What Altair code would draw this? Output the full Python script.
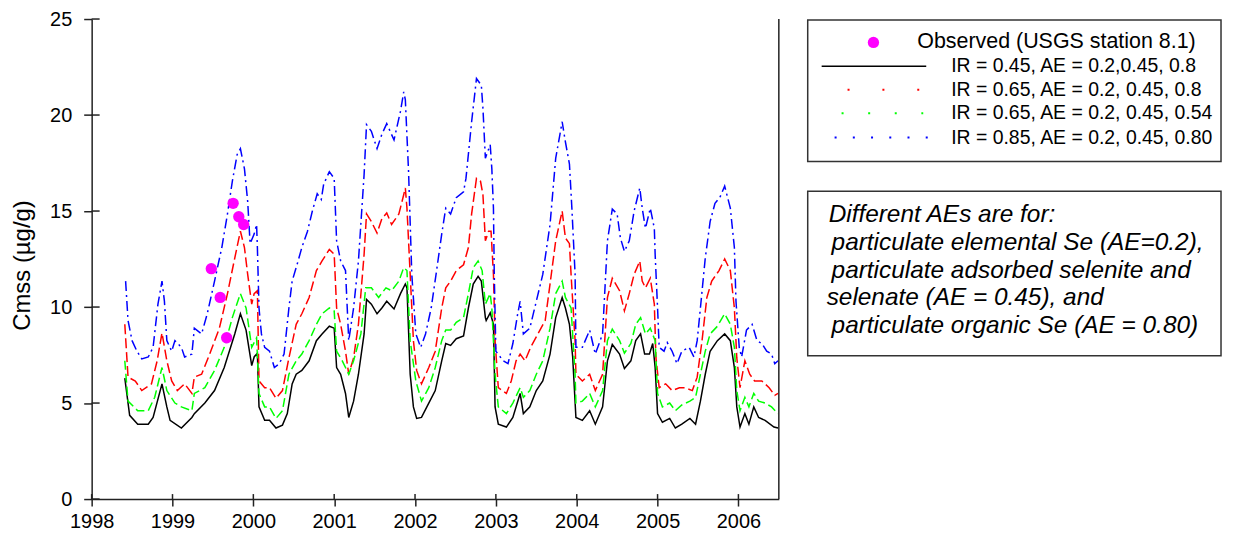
import altair as alt
import pandas as pd

# ---- data (decimal year, Cmss in ug/g) ----
black = [(1998.41, 6.3), (1998.47, 4.36), (1998.57, 3.9), (1998.70, 3.9), (1998.76, 4.25), (1998.87, 6.0),
         (1998.93, 4.8), (1998.97, 4.1), (1999.11, 3.7), (1999.24, 4.25), (1999.27, 4.45), (1999.40, 5.0),
         (1999.52, 5.65), (1999.64, 6.85), (1999.77, 8.6), (1999.84, 9.65), (1999.91, 8.8), (1999.98, 6.95),
         (2000.01, 7.4), (2000.05, 7.6), (2000.07, 4.8), (2000.14, 4.1), (2000.20, 4.1), (2000.28, 3.7),
         (2000.36, 3.85), (2000.42, 4.45), (2000.48, 6.0), (2000.53, 6.5), (2000.60, 6.7), (2000.69, 7.2),
         (2000.78, 8.25), (2000.85, 8.6), (2000.94, 9.0), (2001.00, 8.9), (2001.03, 6.85), (2001.08, 6.5),
         (2001.14, 5.5), (2001.18, 4.25), (2001.24, 5.1), (2001.30, 6.5), (2001.37, 8.6), (2001.40, 10.4),
         (2001.46, 10.15), (2001.53, 9.65), (2001.59, 9.95), (2001.65, 10.3), (2001.74, 9.9), (2001.82, 10.7),
         (2001.88, 11.2), (2001.90, 11.0), (2001.94, 6.5), (2001.98, 4.8), (2002.02, 4.2), (2002.08, 4.25),
         (2002.17, 5.0), (2002.25, 5.65), (2002.33, 7.2), (2002.38, 8.1), (2002.44, 8.0), (2002.51, 8.35),
         (2002.60, 8.5), (2002.66, 9.95), (2002.72, 11.2), (2002.78, 11.6), (2002.82, 11.35), (2002.87, 9.45),
         (2002.88, 9.3), (2002.93, 9.7), (2002.97, 9.1), (2002.99, 4.8), (2003.03, 3.9), (2003.13, 3.75),
         (2003.21, 4.25), (2003.30, 5.5), (2003.34, 4.45), (2003.42, 4.8), (2003.50, 5.65), (2003.58, 6.15),
         (2003.67, 7.55), (2003.74, 9.45), (2003.82, 10.5), (2003.86, 9.95), (2003.91, 9.1), (2003.95, 7.4),
         (2003.99, 4.25), (2004.07, 4.1), (2004.16, 4.6), (2004.23, 3.9), (2004.32, 4.8), (2004.38, 7.2),
         (2004.44, 8.05), (2004.53, 7.55), (2004.59, 6.8), (2004.67, 7.2), (2004.73, 8.25), (2004.79, 8.6),
         (2004.84, 7.55), (2004.90, 7.55), (2004.94, 8.1), (2004.97, 6.85), (2005.00, 4.45), (2005.06, 4.0),
         (2005.15, 4.2), (2005.22, 3.7), (2005.30, 3.9), (2005.40, 4.2), (2005.47, 3.9), (2005.53, 5.1),
         (2005.59, 6.5), (2005.65, 7.7), (2005.74, 8.25), (2005.83, 8.6), (2005.90, 8.25), (2005.95, 6.85),
         (2005.98, 4.8), (2006.02, 3.75), (2006.08, 4.45), (2006.13, 3.9), (2006.19, 4.8), (2006.25, 4.25),
         (2006.33, 4.1), (2006.44, 3.75), (2006.49, 3.7)]

red = [(1998.41, 9.1), (1998.45, 6.35), (1998.54, 6.15), (1998.62, 5.65), (1998.74, 6.0), (1998.81, 7.2),
       (1998.87, 8.65), (1998.93, 7.2), (1998.99, 6.15), (1999.06, 5.65), (1999.15, 6.0), (1999.24, 5.5),
       (1999.27, 6.35), (1999.36, 6.5), (1999.46, 7.55), (1999.58, 8.9), (1999.68, 10.7), (1999.77, 12.55),
       (1999.84, 13.95), (1999.89, 13.1), (1999.93, 11.7), (1999.98, 10.15), (2000.01, 10.7), (2000.05, 10.85),
       (2000.07, 6.15), (2000.14, 5.8), (2000.20, 5.8), (2000.28, 5.25), (2000.36, 5.65), (2000.44, 7.35),
       (2000.53, 9.1), (2000.60, 9.65), (2000.69, 10.5), (2000.78, 11.9), (2000.85, 12.4), (2000.94, 13.0),
       (2001.00, 12.75), (2001.03, 9.95), (2001.08, 9.1), (2001.14, 7.7), (2001.18, 6.5), (2001.24, 7.35),
       (2001.30, 9.1), (2001.37, 12.75), (2001.40, 14.85), (2001.46, 14.45), (2001.53, 13.85), (2001.59, 14.6),
       (2001.65, 14.9), (2001.71, 14.3), (2001.80, 14.85), (2001.86, 15.85), (2001.88, 16.2), (2001.90, 15.15),
       (2001.94, 11.7), (2001.98, 8.25), (2002.02, 6.7), (2002.08, 6.0), (2002.17, 6.85), (2002.25, 7.7),
       (2002.33, 9.95), (2002.38, 11.0), (2002.44, 11.35), (2002.51, 11.9), (2002.60, 12.2), (2002.66, 13.1),
       (2002.70, 14.85), (2002.76, 16.7), (2002.81, 16.55), (2002.84, 15.85), (2002.87, 13.45), (2002.91, 13.95),
       (2002.94, 13.95), (2002.97, 11.7), (2002.99, 8.25), (2003.03, 5.8), (2003.13, 5.5), (2003.19, 6.15),
       (2003.25, 7.2), (2003.30, 7.55), (2003.36, 7.2), (2003.43, 7.9), (2003.52, 8.6), (2003.61, 9.3),
       (2003.67, 11.2), (2003.74, 13.45), (2003.82, 15.0), (2003.86, 13.6), (2003.91, 13.3), (2003.93, 11.7),
       (2003.98, 8.25), (2003.99, 6.5), (2004.07, 6.15), (2004.16, 6.5), (2004.23, 5.65), (2004.32, 6.5),
       (2004.38, 10.5), (2004.44, 11.5), (2004.53, 10.85), (2004.59, 9.8), (2004.65, 10.7), (2004.71, 11.7),
       (2004.78, 12.4), (2004.81, 11.35), (2004.85, 11.0), (2004.91, 11.5), (2004.96, 10.15), (2004.98, 7.35),
       (2005.02, 5.8), (2005.10, 6.0), (2005.18, 5.65), (2005.27, 5.8), (2005.34, 5.8), (2005.43, 5.65),
       (2005.49, 6.35), (2005.55, 8.25), (2005.61, 10.5), (2005.67, 11.35), (2005.76, 11.9), (2005.83, 12.5),
       (2005.90, 11.9), (2005.95, 9.95), (2005.98, 7.35), (2006.02, 5.8), (2006.08, 7.2), (2006.14, 6.5),
       (2006.20, 6.15), (2006.29, 6.15), (2006.38, 5.8), (2006.45, 5.4), (2006.49, 5.5)]

green = [(1998.41, 7.2), (1998.45, 5.1), (1998.57, 4.6), (1998.70, 4.6), (1998.78, 5.3), (1998.87, 6.85),
         (1998.93, 5.65), (1999.03, 5.0), (1999.11, 4.8), (1999.24, 4.6), (1999.27, 5.5), (1999.40, 5.8),
         (1999.52, 6.7), (1999.64, 7.9), (1999.74, 9.45), (1999.84, 10.7), (1999.91, 9.95), (1999.98, 7.9),
         (2000.04, 8.4), (2000.07, 5.5), (2000.14, 4.8), (2000.20, 4.8), (2000.28, 4.2), (2000.36, 4.6),
         (2000.44, 6.5), (2000.53, 7.2), (2000.60, 7.55), (2000.69, 8.25), (2000.78, 9.1), (2000.85, 9.65),
         (2000.94, 9.95), (2001.00, 9.8), (2001.03, 7.7), (2001.10, 7.2), (2001.18, 6.5), (2001.24, 7.2),
         (2001.33, 8.6), (2001.39, 11.0), (2001.46, 11.0), (2001.55, 10.5), (2001.64, 11.0), (2001.71, 10.85),
         (2001.80, 11.35), (2001.86, 12.05), (2001.90, 11.9), (2001.94, 8.25), (2002.01, 6.15), (2002.08, 5.1),
         (2002.17, 5.8), (2002.25, 6.85), (2002.33, 8.25), (2002.38, 8.8), (2002.44, 8.8), (2002.51, 9.2),
         (2002.60, 9.45), (2002.66, 10.7), (2002.72, 12.05), (2002.78, 12.4), (2002.83, 11.9), (2002.87, 10.15),
         (2002.93, 10.7), (2002.95, 9.95), (2002.99, 6.5), (2003.03, 4.8), (2003.13, 4.45), (2003.21, 5.0),
         (2003.30, 5.8), (2003.34, 5.3), (2003.42, 5.65), (2003.50, 6.5), (2003.58, 7.2), (2003.67, 8.9),
         (2003.74, 10.7), (2003.82, 11.35), (2003.86, 10.5), (2003.93, 9.95), (2003.98, 6.5), (2003.99, 5.0),
         (2004.07, 5.1), (2004.16, 5.5), (2004.23, 4.8), (2004.32, 5.65), (2004.38, 8.25), (2004.44, 8.85),
         (2004.53, 8.25), (2004.59, 7.6), (2004.67, 8.1), (2004.73, 9.1), (2004.79, 9.45), (2004.85, 8.6),
         (2004.91, 8.9), (2004.97, 8.25), (2005.00, 5.5), (2005.06, 4.8), (2005.15, 5.0), (2005.22, 4.6),
         (2005.30, 4.9), (2005.40, 5.1), (2005.47, 5.3), (2005.53, 6.5), (2005.59, 7.7), (2005.65, 8.6),
         (2005.74, 9.0), (2005.83, 9.65), (2005.90, 9.1), (2005.95, 7.9), (2005.98, 5.65), (2006.02, 4.6),
         (2006.08, 5.3), (2006.13, 4.8), (2006.19, 5.5), (2006.25, 5.1), (2006.33, 5.0), (2006.41, 4.8),
         (2006.49, 4.45)]

blue = [(1998.42, 11.35), (1998.45, 9.3), (1998.50, 8.25), (1998.56, 7.7), (1998.62, 7.3), (1998.70, 7.4),
        (1998.76, 7.9), (1998.82, 10.15), (1998.87, 11.35), (1998.90, 10.3), (1998.93, 8.25), (1998.99, 7.7),
        (1999.03, 8.25), (1999.11, 7.9), (1999.15, 7.4), (1999.24, 7.55), (1999.27, 8.9), (1999.36, 8.6),
        (1999.43, 9.65), (1999.52, 11.35), (1999.61, 13.1), (1999.68, 14.85), (1999.74, 16.55), (1999.80, 17.95),
        (1999.84, 18.25), (1999.89, 17.2), (1999.93, 15.5), (1999.96, 13.3), (2000.01, 13.8), (2000.04, 14.3),
        (2000.05, 13.1), (2000.07, 9.95), (2000.10, 8.6), (2000.14, 7.9), (2000.20, 7.7), (2000.26, 6.85),
        (2000.32, 7.05), (2000.38, 7.55), (2000.44, 9.95), (2000.48, 11.35), (2000.54, 12.2), (2000.60, 13.1),
        (2000.67, 13.95), (2000.73, 15.0), (2000.79, 15.9), (2000.84, 15.6), (2000.87, 16.4), (2000.94, 17.05),
        (2001.00, 16.7), (2001.03, 13.45), (2001.08, 12.4), (2001.14, 11.9), (2001.18, 8.25), (2001.24, 9.95),
        (2001.30, 12.4), (2001.37, 16.9), (2001.40, 19.5), (2001.46, 19.15), (2001.53, 18.25), (2001.59, 19.0),
        (2001.65, 19.55), (2001.74, 18.7), (2001.82, 20.2), (2001.86, 21.2), (2001.88, 20.8), (2001.92, 17.05),
        (2001.96, 11.7), (2002.01, 8.6), (2002.07, 7.9), (2002.13, 8.6), (2002.20, 9.95), (2002.26, 11.7),
        (2002.33, 13.8), (2002.38, 15.15), (2002.44, 14.85), (2002.51, 15.7), (2002.60, 16.0), (2002.63, 16.7),
        (2002.70, 19.65), (2002.76, 21.9), (2002.82, 21.55), (2002.84, 20.35), (2002.87, 17.75), (2002.93, 18.45),
        (2002.95, 17.2), (2002.97, 15.15), (2002.98, 11.7), (2003.00, 7.7), (2003.09, 7.2), (2003.15, 7.05),
        (2003.21, 8.1), (2003.27, 9.65), (2003.30, 10.3), (2003.34, 8.6), (2003.42, 8.9), (2003.50, 10.3),
        (2003.58, 11.7), (2003.67, 14.3), (2003.74, 17.75), (2003.82, 19.65), (2003.86, 18.6), (2003.91, 17.45),
        (2003.94, 15.15), (2003.98, 11.7), (2003.99, 7.9), (2004.07, 7.9), (2004.16, 8.8), (2004.23, 7.55),
        (2004.32, 8.6), (2004.38, 13.45), (2004.44, 15.1), (2004.50, 14.85), (2004.54, 13.6), (2004.59, 12.9),
        (2004.65, 13.45), (2004.71, 15.0), (2004.78, 16.2), (2004.81, 15.15), (2004.85, 14.1), (2004.91, 15.15),
        (2004.96, 14.1), (2004.97, 12.75), (2005.00, 9.95), (2005.02, 7.9), (2005.08, 7.7), (2005.12, 8.15),
        (2005.18, 7.7), (2005.24, 7.05), (2005.30, 7.7), (2005.39, 7.9), (2005.45, 7.4), (2005.49, 8.25),
        (2005.53, 9.95), (2005.59, 12.55), (2005.65, 14.45), (2005.71, 15.4), (2005.77, 15.7), (2005.83, 16.3),
        (2005.90, 15.15), (2005.95, 13.1), (2005.97, 10.3), (2006.01, 7.9), (2006.04, 7.4), (2006.10, 8.8),
        (2006.17, 9.1), (2006.23, 8.25), (2006.29, 8.1), (2006.35, 7.7), (2006.41, 7.55), (2006.45, 7.05),
        (2006.49, 7.2)]

observed = [(1999.48, 12.0), (1999.59, 10.5), (1999.67, 8.4), (1999.75, 15.4), (1999.82, 14.7), (1999.88, 14.3)]

x_ticks = [1998, 1999, 2000, 2001, 2002, 2003, 2004, 2005, 2006]
y_ticks = [0, 5, 10, 15, 20, 25]

legend_labels = ["Observed (USGS station 8.1)",
                 "IR = 0.45, AE = 0.2,0.45, 0.8",
                 "IR = 0.65, AE = 0.2, 0.45, 0.8",
                 "IR = 0.65, AE = 0.2, 0.45, 0.54",
                 "IR = 0.85, AE = 0.2, 0.45, 0.80"]
note_lines = ["Different AEs are for:",
              "particulate elemental Se (AE=0.2),",
              "particulate adsorbed selenite and",
              "selenate (AE = 0.45), and",
              "particulate organic Se (AE = 0.80)"]

FONT = "Liberation Sans"
W, H = 690, 482


def frame(pairs):
    return pd.DataFrame(pairs, columns=["year", "value"])


x_enc = alt.X("year:Q", scale=alt.Scale(domain=[1998, 2006.5], nice=False, zero=False),
              axis=alt.Axis(values=x_ticks, format="d", title=None, grid=False, labelFlush=False,
                            labelOverlap=False, tickSize=7, labelPadding=6, labelFontSize=20))
y_enc = alt.Y("value:Q", scale=alt.Scale(domain=[0, 25], nice=False, zero=True),
              axis=alt.Axis(values=y_ticks, title="Cmss (µg/g)", grid=False, tickSize=8,
                            labelFlush=False, labelOverlap=False,
                            labelPadding=12, labelFontSize=20, titleFontSize=24,
                            titleFontWeight="normal", titleX=-69, titleY=247,
                            titleAngle=270, titleAlign="center", titleBaseline="middle"))

one = alt.Data(values=[{}])

layers = []
layers.append(alt.Chart(frame(black)).mark_line(color="black", strokeWidth=1.5).encode(x=x_enc, y=y_enc))
layers.append(alt.Chart(frame(red)).mark_line(color="#ff0000", strokeWidth=1.5, strokeDash=[10, 4]).encode(x=x_enc, y=y_enc))
layers.append(alt.Chart(frame(green)).mark_line(color="#00ff00", strokeWidth=1.5, strokeDash=[9, 4]).encode(x=x_enc, y=y_enc))
layers.append(alt.Chart(frame(blue)).mark_line(color="#0000ff", strokeWidth=1.5, strokeDash=[10, 4, 2, 4]).encode(x=x_enc, y=y_enc))
layers.append(alt.Chart(frame(observed)).mark_circle(color="#ff00ff", opacity=1, size=130).encode(x=x_enc, y=y_enc))

# inward tick halves (axis ticks cross the axis line)
layers.append(alt.Chart(pd.DataFrame({"value": y_ticks})).mark_rule(color="#222", strokeWidth=1.5)
              .encode(y=y_enc, x=alt.value(0), x2=alt.value(8)))
layers.append(alt.Chart(pd.DataFrame({"year": x_ticks})).mark_rule(color="#222", strokeWidth=1.5)
              .encode(x=x_enc, y=alt.value(H), y2=alt.value(H - 5)))
# right frame line
layers.append(alt.Chart(one).mark_rule(color="#222", strokeWidth=1.5)
              .encode(x=alt.value(W), y=alt.value(0), y2=alt.value(H)))

# legend box
LX0, LX1 = 719, 1134
layers.append(alt.Chart(one).mark_rect(fill="white", stroke="#333", strokeWidth=1.5)
              .encode(x=alt.value(LX0), x2=alt.value(LX1), y=alt.value(1), y2=alt.value(143)))
layers.append(alt.Chart(one).mark_circle(color="#ff00ff", opacity=1, size=130)
              .encode(x=alt.value(785), y=alt.value(23.5)))
layers.append(alt.Chart(one).mark_rule(color="black", strokeWidth=1.5)
              .encode(x=alt.value(733), x2=alt.value(838), y=alt.value(47.5)))
layers.append(alt.Chart(one).mark_rule(color="#ff0000", strokeWidth=2, strokeDash=[2, 33])
              .encode(x=alt.value(759), x2=alt.value(831), y=alt.value(71)))
layers.append(alt.Chart(one).mark_rule(color="#00ff00", strokeWidth=2, strokeDash=[2, 24.7])
              .encode(x=alt.value(753), x2=alt.value(835), y=alt.value(94.5)))
layers.append(alt.Chart(one).mark_rule(color="#0000ff", strokeWidth=2, strokeDash=[2, 16.3])
              .encode(x=alt.value(746), x2=alt.value(840), y=alt.value(119)))
legend_pos = [(829, 23.5), (863, 47.5), (863, 71), (863, 94.5), (863, 119)]
legend_size = [21.5, 19.5, 19.5, 19.5, 19.5]
for (px, py), fs, lab in zip(legend_pos, legend_size, legend_labels):
    layers.append(alt.Chart(one).mark_text(text=lab, font=FONT, fontSize=fs, align="left",
                                           baseline="middle", color="black")
                  .encode(x=alt.value(px), y=alt.value(py)))

# annotation box
layers.append(alt.Chart(one).mark_rect(fill="white", stroke="#333", strokeWidth=1.5)
              .encode(x=alt.value(LX0), x2=alt.value(LX1), y=alt.value(173), y2=alt.value(338)))
note_pos = [(740, 197), (743, 225), (743, 253), (738, 280), (743, 308)]
for (px, py), line in zip(note_pos, note_lines):
    layers.append(alt.Chart(one).mark_text(text=line, font=FONT, fontSize=24.5, fontStyle="italic",
                                           align="left", baseline="middle", color="black")
                  .encode(x=alt.value(px), y=alt.value(py)))

chart = alt.layer(*layers).properties(
    width=W, height=H,
    autosize=alt.AutoSizeParams(type="none"),
    padding={"left": 84, "top": 10, "right": 448, "bottom": 31},
).configure_view(stroke=None).configure_axis(
    labelFont=FONT, titleFont=FONT, labelColor="black", titleColor="black",
    domainColor="#222", tickColor="#222", domainWidth=1.5, tickWidth=1.5,
)

chart.save("out.html", embed_options={"renderer": "svg", "actions": False})
